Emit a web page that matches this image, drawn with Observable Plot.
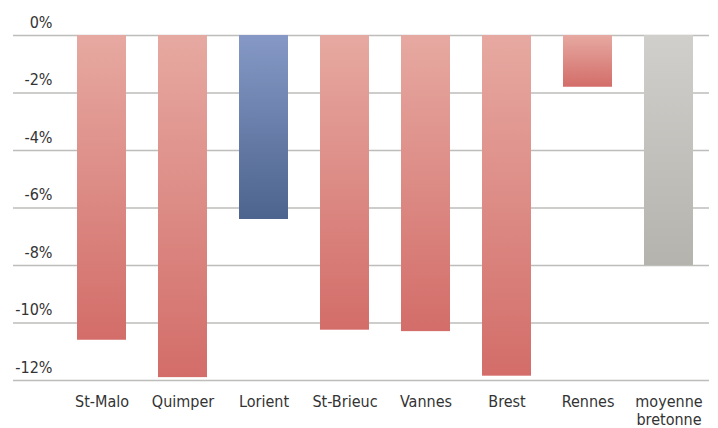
<!DOCTYPE html>
<html><head><meta charset="utf-8">
<script src="https://cdn.jsdelivr.net/npm/d3@7"></script>
<script src="https://cdn.jsdelivr.net/npm/@observablehq/plot@0.6"></script>
<style>body{margin:0;background:#fff;font-family:"Liberation Sans",Arial,sans-serif;}</style>
</head><body><div id="chart"></div>
<script>
const categories = ["St-Malo","Quimper","Lorient","St-Brieuc","Vannes","Brest","Rennes","moyenne\nbretonne"];
const values = [-10.6,-11.9,-6.4,-10.25,-10.3,-11.85,-1.8,-8.0];
const groups = ["ville","ville","lorient","ville","ville","ville","ville","moyenne"];
const yTicks = [0,-2,-4,-6,-8,-10,-12];

const gradients = {
  ville: ["#E6A9A1", "#D36D69"],
  lorient: ["#8699C6", "#4C648E"],
  moyenne: ["#D0CFCB", "#B4B3AE"]
};

const data = categories.map((c, i) => ({cat: c, value: values[i], group: groups[i]}));

const font = '"DejaVu Sans Condensed", "Liberation Sans", Arial, sans-serif';

const chart = Plot.plot({
  width: 718,
  height: 428,
  marginLeft: 61,
  marginRight: 9,
  marginTop: 35,
  marginBottom: 48,
  style: {fontFamily: font, fontSize: "16px", color: "#333"},
  x: {domain: categories, paddingInner: 0.395, paddingOuter: 0.1975, axis: null},
  y: {domain: [-12, 0], axis: null},
  color: {type: "identity"},
  marks: [
    Plot.ruleY(yTicks, {stroke: "#bdbdba", strokeWidth: 1.5, insetLeft: -48}),
    Plot.barY(data, {x: "cat", y: "value", fill: d => `url(#grad-${d.group})`}),
    Plot.text(yTicks, {y: d => d, text: d => `${d}%`, frameAnchor: "left", textAnchor: "end", dx: -9, dy: -13, fill: "#333", fontSize: 16}),
    Plot.text(categories, {x: d => d, y: -12, text: d => d, lineAnchor: "top", dy: 14, lineHeight: 1.12, fill: "#333", fontSize: 16})
  ]
});

const ns = "http://www.w3.org/2000/svg";
const defs = document.createElementNS(ns, "defs");
for (const [k, [c0, c1]] of Object.entries(gradients)) {
  const g = document.createElementNS(ns, "linearGradient");
  g.setAttribute("id", `grad-${k}`);
  g.setAttribute("x1", "0"); g.setAttribute("y1", "0");
  g.setAttribute("x2", "0"); g.setAttribute("y2", "1");
  const s0 = document.createElementNS(ns, "stop");
  s0.setAttribute("offset", "0"); s0.setAttribute("stop-color", c0);
  const s1 = document.createElementNS(ns, "stop");
  s1.setAttribute("offset", "1"); s1.setAttribute("stop-color", c1);
  g.appendChild(s0); g.appendChild(s1);
  defs.appendChild(g);
}
chart.insertBefore(defs, chart.firstChild);
document.getElementById("chart").appendChild(chart);
</script>
</body></html>
